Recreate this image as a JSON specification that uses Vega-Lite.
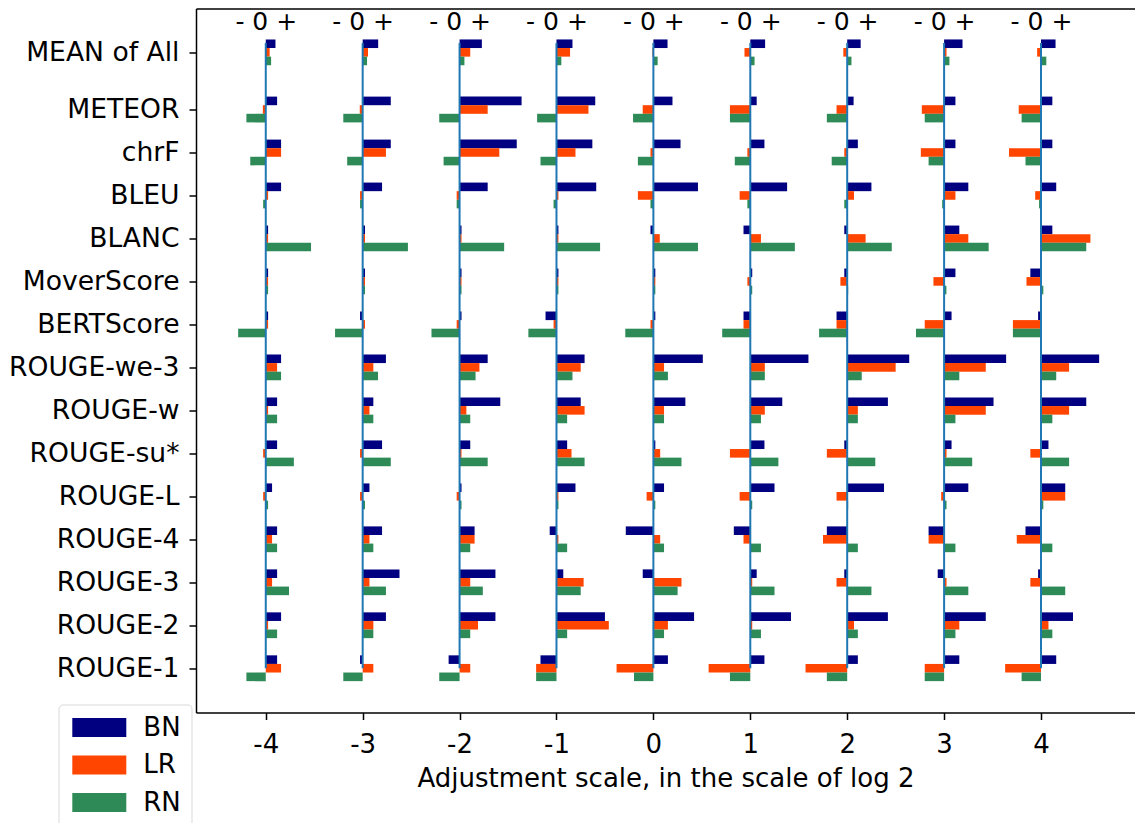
{
"$schema": "https://vega.github.io/schema/vega-lite/v6.json",
"autosize": {"type": "none"},
"padding": {"left": 196, "top": 8.5, "right": 0, "bottom": 110.5},
"width": 939,
"height": 704,
"background": "white",
"config": {
  "view": {"stroke": null},
  "font": "DejaVu Sans",
  "axis": {"labelFont": "DejaVu Sans", "titleFont": "DejaVu Sans", "labelColor": "black", "titleColor": "black", "domainColor": "black", "tickColor": "black", "grid": false, "domainWidth": 1.5, "tickWidth": 1.5},
  "legend": {"labelFont": "DejaVu Sans", "labelColor": "black"}
},
"data": {"values": [
{"m":"MEAN of All","s":"BN","k":-4,"v":0.10},{"m":"MEAN of All","s":"BN","k":-3,"v":0.16},{"m":"MEAN of All","s":"BN","k":-2,"v":0.23},{"m":"MEAN of All","s":"BN","k":-1,"v":0.165},{"m":"MEAN of All","s":"BN","k":0,"v":0.146},{"m":"MEAN of All","s":"BN","k":1,"v":0.153},{"m":"MEAN of All","s":"BN","k":2,"v":0.139},{"m":"MEAN of All","s":"BN","k":3,"v":0.19},{"m":"MEAN of All","s":"BN","k":4,"v":0.15},
{"m":"MEAN of All","s":"LR","k":-4,"v":0.04},{"m":"MEAN of All","s":"LR","k":-3,"v":0.055},{"m":"MEAN of All","s":"LR","k":-2,"v":0.11},{"m":"MEAN of All","s":"LR","k":-1,"v":0.14},{"m":"MEAN of All","s":"LR","k":0,"v":-0.01},{"m":"MEAN of All","s":"LR","k":1,"v":-0.06},{"m":"MEAN of All","s":"LR","k":2,"v":-0.04},{"m":"MEAN of All","s":"LR","k":3,"v":0.025},{"m":"MEAN of All","s":"LR","k":4,"v":-0.04},
{"m":"MEAN of All","s":"RN","k":-4,"v":0.055},{"m":"MEAN of All","s":"RN","k":-3,"v":0.045},{"m":"MEAN of All","s":"RN","k":-2,"v":0.05},{"m":"MEAN of All","s":"RN","k":-1,"v":0.05},{"m":"MEAN of All","s":"RN","k":0,"v":0.044},{"m":"MEAN of All","s":"RN","k":1,"v":0.044},{"m":"MEAN of All","s":"RN","k":2,"v":0.044},{"m":"MEAN of All","s":"RN","k":3,"v":0.055},{"m":"MEAN of All","s":"RN","k":4,"v":0.055},
{"m":"METEOR","s":"BN","k":-4,"v":0.117},{"m":"METEOR","s":"BN","k":-3,"v":0.29},{"m":"METEOR","s":"BN","k":-2,"v":0.64},{"m":"METEOR","s":"BN","k":-1,"v":0.40},{"m":"METEOR","s":"BN","k":0,"v":0.197},{"m":"METEOR","s":"BN","k":1,"v":0.066},{"m":"METEOR","s":"BN","k":2,"v":0.066},{"m":"METEOR","s":"BN","k":3,"v":0.117},{"m":"METEOR","s":"BN","k":4,"v":0.117},
{"m":"METEOR","s":"LR","k":-4,"v":-0.03},{"m":"METEOR","s":"LR","k":-3,"v":-0.03},{"m":"METEOR","s":"LR","k":-2,"v":0.29},{"m":"METEOR","s":"LR","k":-1,"v":0.33},{"m":"METEOR","s":"LR","k":0,"v":-0.11},{"m":"METEOR","s":"LR","k":1,"v":-0.21},{"m":"METEOR","s":"LR","k":2,"v":-0.11},{"m":"METEOR","s":"LR","k":3,"v":-0.23},{"m":"METEOR","s":"LR","k":4,"v":-0.23},
{"m":"METEOR","s":"RN","k":-4,"v":-0.20},{"m":"METEOR","s":"RN","k":-3,"v":-0.20},{"m":"METEOR","s":"RN","k":-2,"v":-0.21},{"m":"METEOR","s":"RN","k":-1,"v":-0.20},{"m":"METEOR","s":"RN","k":0,"v":-0.21},{"m":"METEOR","s":"RN","k":1,"v":-0.21},{"m":"METEOR","s":"RN","k":2,"v":-0.21},{"m":"METEOR","s":"RN","k":3,"v":-0.20},{"m":"METEOR","s":"RN","k":4,"v":-0.20},
{"m":"chrF","s":"BN","k":-4,"v":0.158},{"m":"chrF","s":"BN","k":-3,"v":0.29},{"m":"chrF","s":"BN","k":-2,"v":0.59},{"m":"chrF","s":"BN","k":-1,"v":0.37},{"m":"chrF","s":"BN","k":0,"v":0.28},{"m":"chrF","s":"BN","k":1,"v":0.146},{"m":"chrF","s":"BN","k":2,"v":0.11},{"m":"chrF","s":"BN","k":3,"v":0.117},{"m":"chrF","s":"BN","k":4,"v":0.117},
{"m":"chrF","s":"LR","k":-4,"v":0.158},{"m":"chrF","s":"LR","k":-3,"v":0.24},{"m":"chrF","s":"LR","k":-2,"v":0.41},{"m":"chrF","s":"LR","k":-1,"v":0.196},{"m":"chrF","s":"LR","k":0,"v":-0.03},{"m":"chrF","s":"LR","k":1,"v":-0.03},{"m":"chrF","s":"LR","k":2,"v":-0.03},{"m":"chrF","s":"LR","k":3,"v":-0.24},{"m":"chrF","s":"LR","k":4,"v":-0.33},
{"m":"chrF","s":"RN","k":-4,"v":-0.16},{"m":"chrF","s":"RN","k":-3,"v":-0.16},{"m":"chrF","s":"RN","k":-2,"v":-0.165},{"m":"chrF","s":"RN","k":-1,"v":-0.165},{"m":"chrF","s":"RN","k":0,"v":-0.16},{"m":"chrF","s":"RN","k":1,"v":-0.16},{"m":"chrF","s":"RN","k":2,"v":-0.16},{"m":"chrF","s":"RN","k":3,"v":-0.16},{"m":"chrF","s":"RN","k":4,"v":-0.16},
{"m":"BLEU","s":"BN","k":-4,"v":0.158},{"m":"BLEU","s":"BN","k":-3,"v":0.20},{"m":"BLEU","s":"BN","k":-2,"v":0.29},{"m":"BLEU","s":"BN","k":-1,"v":0.41},{"m":"BLEU","s":"BN","k":0,"v":0.46},{"m":"BLEU","s":"BN","k":1,"v":0.38},{"m":"BLEU","s":"BN","k":2,"v":0.25},{"m":"BLEU","s":"BN","k":3,"v":0.25},{"m":"BLEU","s":"BN","k":4,"v":0.157},
{"m":"BLEU","s":"LR","k":-4,"v":0.024},{"m":"BLEU","s":"LR","k":-3,"v":-0.027},{"m":"BLEU","s":"LR","k":-2,"v":-0.03},{"m":"BLEU","s":"LR","k":-1,"v":0.02},{"m":"BLEU","s":"LR","k":0,"v":-0.16},{"m":"BLEU","s":"LR","k":1,"v":-0.11},{"m":"BLEU","s":"LR","k":2,"v":0.07},{"m":"BLEU","s":"LR","k":3,"v":0.117},{"m":"BLEU","s":"LR","k":4,"v":-0.06},
{"m":"BLEU","s":"RN","k":-4,"v":-0.027},{"m":"BLEU","s":"RN","k":-3,"v":-0.027},{"m":"BLEU","s":"RN","k":-2,"v":-0.03},{"m":"BLEU","s":"RN","k":-1,"v":-0.03},{"m":"BLEU","s":"RN","k":0,"v":-0.03},{"m":"BLEU","s":"RN","k":1,"v":-0.03},{"m":"BLEU","s":"RN","k":2,"v":-0.03},{"m":"BLEU","s":"RN","k":3,"v":-0.02},{"m":"BLEU","s":"RN","k":4,"v":-0.02},
{"m":"BLANC","s":"BN","k":-4,"v":0.024},{"m":"BLANC","s":"BN","k":-3,"v":0.024},{"m":"BLANC","s":"BN","k":-2,"v":0.02},{"m":"BLANC","s":"BN","k":-1,"v":0.02},{"m":"BLANC","s":"BN","k":0,"v":-0.03},{"m":"BLANC","s":"BN","k":1,"v":-0.07},{"m":"BLANC","s":"BN","k":2,"v":-0.03},{"m":"BLANC","s":"BN","k":3,"v":0.157},{"m":"BLANC","s":"BN","k":4,"v":0.117},
{"m":"BLANC","s":"LR","k":-4,"v":0.024},{"m":"BLANC","s":"LR","k":-3,"v":0.024},{"m":"BLANC","s":"LR","k":-2,"v":0.02},{"m":"BLANC","s":"LR","k":-1,"v":0.02},{"m":"BLANC","s":"LR","k":0,"v":0.066},{"m":"BLANC","s":"LR","k":1,"v":0.11},{"m":"BLANC","s":"LR","k":2,"v":0.19},{"m":"BLANC","s":"LR","k":3,"v":0.25},{"m":"BLANC","s":"LR","k":4,"v":0.51},
{"m":"BLANC","s":"RN","k":-4,"v":0.467},{"m":"BLANC","s":"RN","k":-3,"v":0.467},{"m":"BLANC","s":"RN","k":-2,"v":0.46},{"m":"BLANC","s":"RN","k":-1,"v":0.45},{"m":"BLANC","s":"RN","k":0,"v":0.46},{"m":"BLANC","s":"RN","k":1,"v":0.46},{"m":"BLANC","s":"RN","k":2,"v":0.46},{"m":"BLANC","s":"RN","k":3,"v":0.46},{"m":"BLANC","s":"RN","k":4,"v":0.467},
{"m":"MoverScore","s":"BN","k":-4,"v":0.024},{"m":"MoverScore","s":"BN","k":-3,"v":0.024},{"m":"MoverScore","s":"BN","k":-2,"v":0.02},{"m":"MoverScore","s":"BN","k":-1,"v":0.02},{"m":"MoverScore","s":"BN","k":0,"v":0.02},{"m":"MoverScore","s":"BN","k":1,"v":0.02},{"m":"MoverScore","s":"BN","k":2,"v":-0.03},{"m":"MoverScore","s":"BN","k":3,"v":0.117},{"m":"MoverScore","s":"BN","k":4,"v":-0.11},
{"m":"MoverScore","s":"LR","k":-4,"v":0.024},{"m":"MoverScore","s":"LR","k":-3,"v":0.024},{"m":"MoverScore","s":"LR","k":-2,"v":0.02},{"m":"MoverScore","s":"LR","k":-1,"v":0.02},{"m":"MoverScore","s":"LR","k":0,"v":0.02},{"m":"MoverScore","s":"LR","k":1,"v":-0.03},{"m":"MoverScore","s":"LR","k":2,"v":-0.07},{"m":"MoverScore","s":"LR","k":3,"v":-0.11},{"m":"MoverScore","s":"LR","k":4,"v":-0.15},
{"m":"MoverScore","s":"RN","k":-4,"v":0.024},{"m":"MoverScore","s":"RN","k":-3,"v":0.024},{"m":"MoverScore","s":"RN","k":-2,"v":0.02},{"m":"MoverScore","s":"RN","k":-1,"v":0.02},{"m":"MoverScore","s":"RN","k":0,"v":0.02},{"m":"MoverScore","s":"RN","k":1,"v":0.02},{"m":"MoverScore","s":"RN","k":2,"v":0.01},{"m":"MoverScore","s":"RN","k":3,"v":0.024},{"m":"MoverScore","s":"RN","k":4,"v":0.024},
{"m":"BERTScore","s":"BN","k":-4,"v":0.024},{"m":"BERTScore","s":"BN","k":-3,"v":-0.027},{"m":"BERTScore","s":"BN","k":-2,"v":0.02},{"m":"BERTScore","s":"BN","k":-1,"v":-0.113},{"m":"BERTScore","s":"BN","k":0,"v":0.02},{"m":"BERTScore","s":"BN","k":1,"v":-0.07},{"m":"BERTScore","s":"BN","k":2,"v":-0.11},{"m":"BERTScore","s":"BN","k":3,"v":0.077},{"m":"BERTScore","s":"BN","k":4,"v":-0.03},
{"m":"BERTScore","s":"LR","k":-4,"v":0.024},{"m":"BERTScore","s":"LR","k":-3,"v":0.024},{"m":"BERTScore","s":"LR","k":-2,"v":-0.03},{"m":"BERTScore","s":"LR","k":-1,"v":-0.03},{"m":"BERTScore","s":"LR","k":0,"v":-0.03},{"m":"BERTScore","s":"LR","k":1,"v":-0.07},{"m":"BERTScore","s":"LR","k":2,"v":-0.11},{"m":"BERTScore","s":"LR","k":3,"v":-0.20},{"m":"BERTScore","s":"LR","k":4,"v":-0.29},
{"m":"BERTScore","s":"RN","k":-4,"v":-0.285},{"m":"BERTScore","s":"RN","k":-3,"v":-0.285},{"m":"BERTScore","s":"RN","k":-2,"v":-0.29},{"m":"BERTScore","s":"RN","k":-1,"v":-0.29},{"m":"BERTScore","s":"RN","k":0,"v":-0.29},{"m":"BERTScore","s":"RN","k":1,"v":-0.29},{"m":"BERTScore","s":"RN","k":2,"v":-0.29},{"m":"BERTScore","s":"RN","k":3,"v":-0.29},{"m":"BERTScore","s":"RN","k":4,"v":-0.29},
{"m":"ROUGE-we-3","s":"BN","k":-4,"v":0.158},{"m":"ROUGE-we-3","s":"BN","k":-3,"v":0.24},{"m":"ROUGE-we-3","s":"BN","k":-2,"v":0.29},{"m":"ROUGE-we-3","s":"BN","k":-1,"v":0.29},{"m":"ROUGE-we-3","s":"BN","k":0,"v":0.51},{"m":"ROUGE-we-3","s":"BN","k":1,"v":0.60},{"m":"ROUGE-we-3","s":"BN","k":2,"v":0.64},{"m":"ROUGE-we-3","s":"BN","k":3,"v":0.64},{"m":"ROUGE-we-3","s":"BN","k":4,"v":0.60},
{"m":"ROUGE-we-3","s":"LR","k":-4,"v":0.117},{"m":"ROUGE-we-3","s":"LR","k":-3,"v":0.11},{"m":"ROUGE-we-3","s":"LR","k":-2,"v":0.205},{"m":"ROUGE-we-3","s":"LR","k":-1,"v":0.25},{"m":"ROUGE-we-3","s":"LR","k":0,"v":0.11},{"m":"ROUGE-we-3","s":"LR","k":1,"v":0.15},{"m":"ROUGE-we-3","s":"LR","k":2,"v":0.50},{"m":"ROUGE-we-3","s":"LR","k":3,"v":0.43},{"m":"ROUGE-we-3","s":"LR","k":4,"v":0.29},
{"m":"ROUGE-we-3","s":"RN","k":-4,"v":0.158},{"m":"ROUGE-we-3","s":"RN","k":-3,"v":0.158},{"m":"ROUGE-we-3","s":"RN","k":-2,"v":0.165},{"m":"ROUGE-we-3","s":"RN","k":-1,"v":0.165},{"m":"ROUGE-we-3","s":"RN","k":0,"v":0.15},{"m":"ROUGE-we-3","s":"RN","k":1,"v":0.15},{"m":"ROUGE-we-3","s":"RN","k":2,"v":0.15},{"m":"ROUGE-we-3","s":"RN","k":3,"v":0.157},{"m":"ROUGE-we-3","s":"RN","k":4,"v":0.157},
{"m":"ROUGE-w","s":"BN","k":-4,"v":0.117},{"m":"ROUGE-w","s":"BN","k":-3,"v":0.11},{"m":"ROUGE-w","s":"BN","k":-2,"v":0.42},{"m":"ROUGE-w","s":"BN","k":-1,"v":0.25},{"m":"ROUGE-w","s":"BN","k":0,"v":0.33},{"m":"ROUGE-w","s":"BN","k":1,"v":0.33},{"m":"ROUGE-w","s":"BN","k":2,"v":0.42},{"m":"ROUGE-w","s":"BN","k":3,"v":0.51},{"m":"ROUGE-w","s":"BN","k":4,"v":0.467},
{"m":"ROUGE-w","s":"LR","k":-4,"v":0.024},{"m":"ROUGE-w","s":"LR","k":-3,"v":0.07},{"m":"ROUGE-w","s":"LR","k":-2,"v":0.07},{"m":"ROUGE-w","s":"LR","k":-1,"v":0.29},{"m":"ROUGE-w","s":"LR","k":0,"v":0.11},{"m":"ROUGE-w","s":"LR","k":1,"v":0.15},{"m":"ROUGE-w","s":"LR","k":2,"v":0.11},{"m":"ROUGE-w","s":"LR","k":3,"v":0.43},{"m":"ROUGE-w","s":"LR","k":4,"v":0.29},
{"m":"ROUGE-w","s":"RN","k":-4,"v":0.117},{"m":"ROUGE-w","s":"RN","k":-3,"v":0.11},{"m":"ROUGE-w","s":"RN","k":-2,"v":0.11},{"m":"ROUGE-w","s":"RN","k":-1,"v":0.11},{"m":"ROUGE-w","s":"RN","k":0,"v":0.11},{"m":"ROUGE-w","s":"RN","k":1,"v":0.11},{"m":"ROUGE-w","s":"RN","k":2,"v":0.11},{"m":"ROUGE-w","s":"RN","k":3,"v":0.117},{"m":"ROUGE-w","s":"RN","k":4,"v":0.117},
{"m":"ROUGE-su*","s":"BN","k":-4,"v":0.117},{"m":"ROUGE-su*","s":"BN","k":-3,"v":0.20},{"m":"ROUGE-su*","s":"BN","k":-2,"v":0.11},{"m":"ROUGE-su*","s":"BN","k":-1,"v":0.11},{"m":"ROUGE-su*","s":"BN","k":0,"v":0.02},{"m":"ROUGE-su*","s":"BN","k":1,"v":0.146},{"m":"ROUGE-su*","s":"BN","k":2,"v":-0.03},{"m":"ROUGE-su*","s":"BN","k":3,"v":0.077},{"m":"ROUGE-su*","s":"BN","k":4,"v":0.077},
{"m":"ROUGE-su*","s":"LR","k":-4,"v":-0.027},{"m":"ROUGE-su*","s":"LR","k":-3,"v":-0.027},{"m":"ROUGE-su*","s":"LR","k":-2,"v":0.02},{"m":"ROUGE-su*","s":"LR","k":-1,"v":0.155},{"m":"ROUGE-su*","s":"LR","k":0,"v":0.07},{"m":"ROUGE-su*","s":"LR","k":1,"v":-0.21},{"m":"ROUGE-su*","s":"LR","k":2,"v":-0.21},{"m":"ROUGE-su*","s":"LR","k":3,"v":0.025},{"m":"ROUGE-su*","s":"LR","k":4,"v":-0.11},
{"m":"ROUGE-su*","s":"RN","k":-4,"v":0.29},{"m":"ROUGE-su*","s":"RN","k":-3,"v":0.29},{"m":"ROUGE-su*","s":"RN","k":-2,"v":0.29},{"m":"ROUGE-su*","s":"RN","k":-1,"v":0.29},{"m":"ROUGE-su*","s":"RN","k":0,"v":0.29},{"m":"ROUGE-su*","s":"RN","k":1,"v":0.29},{"m":"ROUGE-su*","s":"RN","k":2,"v":0.29},{"m":"ROUGE-su*","s":"RN","k":3,"v":0.29},{"m":"ROUGE-su*","s":"RN","k":4,"v":0.29},
{"m":"ROUGE-L","s":"BN","k":-4,"v":0.065},{"m":"ROUGE-L","s":"BN","k":-3,"v":0.07},{"m":"ROUGE-L","s":"BN","k":-2,"v":0.02},{"m":"ROUGE-L","s":"BN","k":-1,"v":0.196},{"m":"ROUGE-L","s":"BN","k":0,"v":0.11},{"m":"ROUGE-L","s":"BN","k":1,"v":0.25},{"m":"ROUGE-L","s":"BN","k":2,"v":0.38},{"m":"ROUGE-L","s":"BN","k":3,"v":0.25},{"m":"ROUGE-L","s":"BN","k":4,"v":0.25},
{"m":"ROUGE-L","s":"LR","k":-4,"v":-0.027},{"m":"ROUGE-L","s":"LR","k":-3,"v":-0.027},{"m":"ROUGE-L","s":"LR","k":-2,"v":-0.03},{"m":"ROUGE-L","s":"LR","k":-1,"v":0.02},{"m":"ROUGE-L","s":"LR","k":0,"v":-0.07},{"m":"ROUGE-L","s":"LR","k":1,"v":-0.11},{"m":"ROUGE-L","s":"LR","k":2,"v":-0.11},{"m":"ROUGE-L","s":"LR","k":3,"v":-0.03},{"m":"ROUGE-L","s":"LR","k":4,"v":0.25},
{"m":"ROUGE-L","s":"RN","k":-4,"v":0.024},{"m":"ROUGE-L","s":"RN","k":-3,"v":0.024},{"m":"ROUGE-L","s":"RN","k":-2,"v":0.02},{"m":"ROUGE-L","s":"RN","k":-1,"v":0.02},{"m":"ROUGE-L","s":"RN","k":0,"v":0.02},{"m":"ROUGE-L","s":"RN","k":1,"v":0.02},{"m":"ROUGE-L","s":"RN","k":2,"v":0.01},{"m":"ROUGE-L","s":"RN","k":3,"v":0.025},{"m":"ROUGE-L","s":"RN","k":4,"v":0.024},
{"m":"ROUGE-4","s":"BN","k":-4,"v":0.117},{"m":"ROUGE-4","s":"BN","k":-3,"v":0.20},{"m":"ROUGE-4","s":"BN","k":-2,"v":0.155},{"m":"ROUGE-4","s":"BN","k":-1,"v":-0.07},{"m":"ROUGE-4","s":"BN","k":0,"v":-0.285},{"m":"ROUGE-4","s":"BN","k":1,"v":-0.17},{"m":"ROUGE-4","s":"BN","k":2,"v":-0.21},{"m":"ROUGE-4","s":"BN","k":3,"v":-0.16},{"m":"ROUGE-4","s":"BN","k":4,"v":-0.16},
{"m":"ROUGE-4","s":"LR","k":-4,"v":0.065},{"m":"ROUGE-4","s":"LR","k":-3,"v":0.07},{"m":"ROUGE-4","s":"LR","k":-2,"v":0.155},{"m":"ROUGE-4","s":"LR","k":-1,"v":0.02},{"m":"ROUGE-4","s":"LR","k":0,"v":0.07},{"m":"ROUGE-4","s":"LR","k":1,"v":-0.07},{"m":"ROUGE-4","s":"LR","k":2,"v":-0.25},{"m":"ROUGE-4","s":"LR","k":3,"v":-0.16},{"m":"ROUGE-4","s":"LR","k":4,"v":-0.25},
{"m":"ROUGE-4","s":"RN","k":-4,"v":0.117},{"m":"ROUGE-4","s":"RN","k":-3,"v":0.11},{"m":"ROUGE-4","s":"RN","k":-2,"v":0.11},{"m":"ROUGE-4","s":"RN","k":-1,"v":0.11},{"m":"ROUGE-4","s":"RN","k":0,"v":0.11},{"m":"ROUGE-4","s":"RN","k":1,"v":0.11},{"m":"ROUGE-4","s":"RN","k":2,"v":0.11},{"m":"ROUGE-4","s":"RN","k":3,"v":0.117},{"m":"ROUGE-4","s":"RN","k":4,"v":0.117},
{"m":"ROUGE-3","s":"BN","k":-4,"v":0.117},{"m":"ROUGE-3","s":"BN","k":-3,"v":0.38},{"m":"ROUGE-3","s":"BN","k":-2,"v":0.37},{"m":"ROUGE-3","s":"BN","k":-1,"v":0.07},{"m":"ROUGE-3","s":"BN","k":0,"v":-0.11},{"m":"ROUGE-3","s":"BN","k":1,"v":0.066},{"m":"ROUGE-3","s":"BN","k":2,"v":-0.03},{"m":"ROUGE-3","s":"BN","k":3,"v":-0.066},{"m":"ROUGE-3","s":"BN","k":4,"v":-0.03},
{"m":"ROUGE-3","s":"LR","k":-4,"v":0.065},{"m":"ROUGE-3","s":"LR","k":-3,"v":0.07},{"m":"ROUGE-3","s":"LR","k":-2,"v":0.11},{"m":"ROUGE-3","s":"LR","k":-1,"v":0.28},{"m":"ROUGE-3","s":"LR","k":0,"v":0.29},{"m":"ROUGE-3","s":"LR","k":1,"v":0.02},{"m":"ROUGE-3","s":"LR","k":2,"v":-0.11},{"m":"ROUGE-3","s":"LR","k":3,"v":0.025},{"m":"ROUGE-3","s":"LR","k":4,"v":-0.11},
{"m":"ROUGE-3","s":"RN","k":-4,"v":0.24},{"m":"ROUGE-3","s":"RN","k":-3,"v":0.24},{"m":"ROUGE-3","s":"RN","k":-2,"v":0.24},{"m":"ROUGE-3","s":"RN","k":-1,"v":0.25},{"m":"ROUGE-3","s":"RN","k":0,"v":0.25},{"m":"ROUGE-3","s":"RN","k":1,"v":0.25},{"m":"ROUGE-3","s":"RN","k":2,"v":0.25},{"m":"ROUGE-3","s":"RN","k":3,"v":0.25},{"m":"ROUGE-3","s":"RN","k":4,"v":0.25},
{"m":"ROUGE-2","s":"BN","k":-4,"v":0.158},{"m":"ROUGE-2","s":"BN","k":-3,"v":0.24},{"m":"ROUGE-2","s":"BN","k":-2,"v":0.37},{"m":"ROUGE-2","s":"BN","k":-1,"v":0.50},{"m":"ROUGE-2","s":"BN","k":0,"v":0.42},{"m":"ROUGE-2","s":"BN","k":1,"v":0.42},{"m":"ROUGE-2","s":"BN","k":2,"v":0.42},{"m":"ROUGE-2","s":"BN","k":3,"v":0.43},{"m":"ROUGE-2","s":"BN","k":4,"v":0.33},
{"m":"ROUGE-2","s":"LR","k":-4,"v":0.024},{"m":"ROUGE-2","s":"LR","k":-3,"v":0.11},{"m":"ROUGE-2","s":"LR","k":-2,"v":0.19},{"m":"ROUGE-2","s":"LR","k":-1,"v":0.54},{"m":"ROUGE-2","s":"LR","k":0,"v":0.15},{"m":"ROUGE-2","s":"LR","k":1,"v":0.02},{"m":"ROUGE-2","s":"LR","k":2,"v":0.07},{"m":"ROUGE-2","s":"LR","k":3,"v":0.157},{"m":"ROUGE-2","s":"LR","k":4,"v":0.077},
{"m":"ROUGE-2","s":"RN","k":-4,"v":0.117},{"m":"ROUGE-2","s":"RN","k":-3,"v":0.11},{"m":"ROUGE-2","s":"RN","k":-2,"v":0.11},{"m":"ROUGE-2","s":"RN","k":-1,"v":0.11},{"m":"ROUGE-2","s":"RN","k":0,"v":0.11},{"m":"ROUGE-2","s":"RN","k":1,"v":0.11},{"m":"ROUGE-2","s":"RN","k":2,"v":0.11},{"m":"ROUGE-2","s":"RN","k":3,"v":0.117},{"m":"ROUGE-2","s":"RN","k":4,"v":0.117},
{"m":"ROUGE-1","s":"BN","k":-4,"v":0.117},{"m":"ROUGE-1","s":"BN","k":-3,"v":-0.027},{"m":"ROUGE-1","s":"BN","k":-2,"v":-0.113},{"m":"ROUGE-1","s":"BN","k":-1,"v":-0.165},{"m":"ROUGE-1","s":"BN","k":0,"v":0.15},{"m":"ROUGE-1","s":"BN","k":1,"v":0.146},{"m":"ROUGE-1","s":"BN","k":2,"v":0.11},{"m":"ROUGE-1","s":"BN","k":3,"v":0.157},{"m":"ROUGE-1","s":"BN","k":4,"v":0.157},
{"m":"ROUGE-1","s":"LR","k":-4,"v":0.158},{"m":"ROUGE-1","s":"LR","k":-3,"v":0.11},{"m":"ROUGE-1","s":"LR","k":-2,"v":0.11},{"m":"ROUGE-1","s":"LR","k":-1,"v":-0.21},{"m":"ROUGE-1","s":"LR","k":0,"v":-0.38},{"m":"ROUGE-1","s":"LR","k":1,"v":-0.43},{"m":"ROUGE-1","s":"LR","k":2,"v":-0.43},{"m":"ROUGE-1","s":"LR","k":3,"v":-0.20},{"m":"ROUGE-1","s":"LR","k":4,"v":-0.37},
{"m":"ROUGE-1","s":"RN","k":-4,"v":-0.20},{"m":"ROUGE-1","s":"RN","k":-3,"v":-0.20},{"m":"ROUGE-1","s":"RN","k":-2,"v":-0.21},{"m":"ROUGE-1","s":"RN","k":-1,"v":-0.21},{"m":"ROUGE-1","s":"RN","k":0,"v":-0.20},{"m":"ROUGE-1","s":"RN","k":1,"v":-0.21},{"m":"ROUGE-1","s":"RN","k":2,"v":-0.21},{"m":"ROUGE-1","s":"RN","k":3,"v":-0.20},{"m":"ROUGE-1","s":"RN","k":4,"v":-0.20}
]},
"transform": [
  {"calculate": "indexof(['ROUGE-1','ROUGE-2','ROUGE-3','ROUGE-4','ROUGE-L','ROUGE-su*','ROUGE-w','ROUGE-we-3','BERTScore','MoverScore','BLANC','BLEU','chrF','METEOR'], datum.m)", "as": "row"},
  {"calculate": "(datum.row < 0 ? 14.33 : datum.row) + (datum.s == 'BN' ? 0.2 : datum.s == 'LR' ? 0 : -0.2)", "as": "yc"},
  {"calculate": "datum.yc - 0.1", "as": "ylo"},
  {"calculate": "datum.yc + 0.1", "as": "yhi"},
  {"calculate": "datum.k + datum.v", "as": "kend"}
],
"resolve": {"axis": {"x": "independent"}},
"layer": [
  {
    "mark": {"type": "rect"},
    "encoding": {
      "x": {"field": "k", "type": "quantitative",
        "scale": {"domain": [-4.72, 4.97], "nice": false, "zero": false},
        "axis": {"orient": "bottom", "values": [-4,-3,-2,-1,0,1,2,3,4], "labelExpr": "'' + datum.value", "labelFontSize": 26, "tickSize": 7, "labelPadding": 12, "title": "Adjustment scale, in the scale of log 2", "titleFontSize": 26, "titleFontWeight": "normal", "titlePadding": 8}},
      "x2": {"field": "kend"},
      "y": {"field": "ylo", "type": "quantitative",
        "scale": {"domain": [-1.03, 15.35], "nice": false, "zero": false},
        "axis": {"orient": "left", "values": [0,1,2,3,4,5,6,7,8,9,10,11,12,13,14.33], "labelExpr": "datum.value > 14 ? 'MEAN of All' : ['ROUGE-1','ROUGE-2','ROUGE-3','ROUGE-4','ROUGE-L','ROUGE-su*','ROUGE-w','ROUGE-we-3','BERTScore','MoverScore','BLANC','BLEU','chrF','METEOR'][round(datum.value)]", "labelFontSize": 26.6, "tickSize": 7, "labelPadding": 10, "title": null}},
      "y2": {"field": "yhi"},
      "color": {"field": "s", "type": "nominal",
        "scale": {"domain": ["BN","LR","RN"], "range": ["#000080","#ff4500","#2e8b57"]},
        "legend": {"title": null, "orient": "none", "legendX": -137.5, "legendY": 696, "direction": "vertical",
          "symbolType": "M-2.842,-1H2.842V1H-2.842Z", "symbolSize": 361, "symbolStrokeWidth": 0, "symbolOpacity": 1, "symbolOffset": 17.8,
          "labelFontSize": 26, "labelOffset": 31, "rowPadding": 11.5, "padding": 10,
          "strokeColor": "#d9d9d9", "fillColor": "rgba(255,255,255,0.8)", "cornerRadius": 4}}
    }
  },
  {
    "transform": [{"filter": "datum.m == 'ROUGE-1' && datum.s == 'LR'"}],
    "mark": {"type": "rule", "color": "#1f77b4", "strokeWidth": 2},
    "encoding": {
      "x": {"field": "k", "type": "quantitative",
        "scale": {"domain": [-4.72, 4.97], "nice": false, "zero": false},
        "axis": {"orient": "top", "values": [-4,-3,-2,-1,0,1,2,3,4], "labelExpr": "'- 0 +'", "labelFontSize": 25, "ticks": false, "tickSize": 0, "labelPadding": -1, "labelBaseline": "top", "title": null}},
      "y": {"datum": 0, "type": "quantitative"},
      "y2": {"datum": 14.55}
    }
  }
]
}
